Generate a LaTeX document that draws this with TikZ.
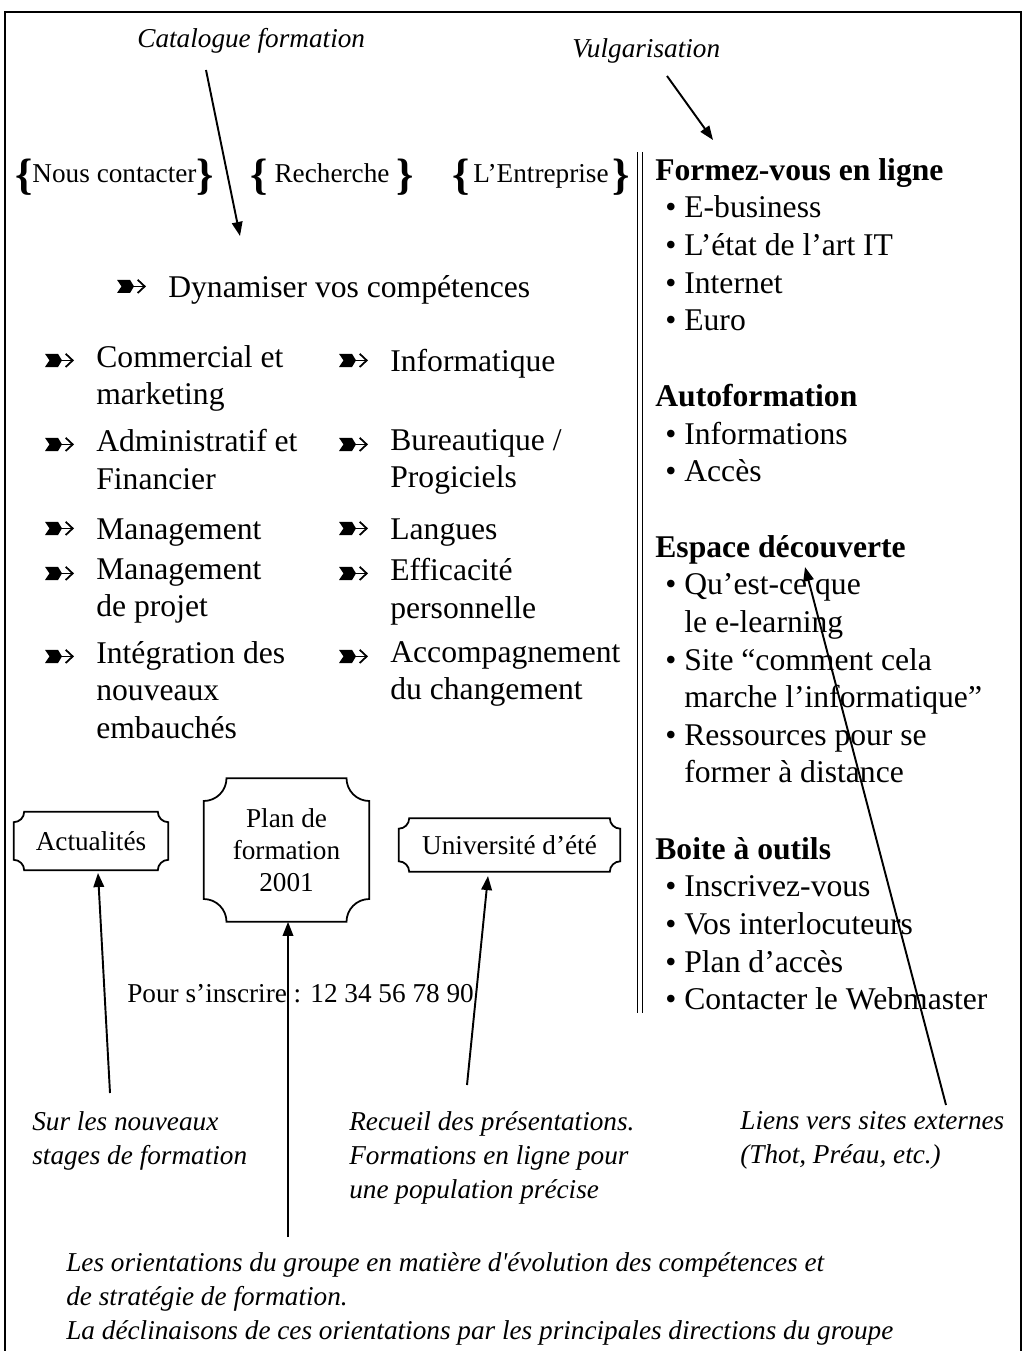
\documentclass[tikz,border=0pt]{standalone}
\usepackage{fontspec}
\setmainfont{Liberation Serif}
\usetikzlibrary{arrows.meta,positioning}

% bullet inside the right column
\newcommand\bul{\makebox[0.58cm][l]{\hspace{0.2cm}\textbullet}}
\newcommand\cont{\hspace*{0.58cm}}
% plaque outline round a node: #1 node, #2 corner radius
\newcommand\plaque[2]{%
  \draw[line width=1pt] ([xshift=#2]#1.north west) -- ([xshift=-#2]#1.north east)
    arc[start angle=180,end angle=270,radius=#2] -- ([yshift=#2]#1.south east)
    arc[start angle=90,end angle=180,radius=#2] -- ([xshift=#2]#1.south west)
    arc[start angle=0,end angle=90,radius=#2] -- ([yshift=-#2]#1.north west)
    arc[start angle=270,end angle=360,radius=#2] -- cycle;}

\tikzset{
  body/.style={font=\fontsize{18}{21.4}\selectfont,align=left,anchor=north west,inner sep=0pt,
    execute at begin node=\strut},
  small/.style={font=\fontsize{15.5}{18.1}\selectfont,inner sep=0pt},
  note/.style={font=\fontsize{15.5}{19.3}\selectfont\itshape,align=left,anchor=north west,inner sep=0pt,
    execute at begin node=\strut},
  brc/.style={font=\fontsize{25}{25}\selectfont\bfseries,inner sep=0pt,yshift=-0.04cm},
  tab/.style={small,text height=12pt,text depth=3pt,
    label={[brc,anchor=west]west:\{},label={[brc,anchor=east]east:\}}},
  box/.style={small,align=center},
  pointer/.style={line width=1.1pt,-{Triangle[length=8pt,width=6pt]}},
  fletch/.pic={
    \fill (-51,22) -- (-38,22) -- (-34,15.4) -- (-38,8.8) -- (-51,8.8) -- (-46.5,15.4) -- cycle;
    \draw[line width=1pt,-{Straight Barb[length=4pt,width=7.5pt]}] (-36,15.4) -- (-22,15.4);
  }
}

\begin{document}
\begin{tikzpicture}[x=0.02cm,y=-0.02cm]
  \useasboundingbox (0,0) rectangle (1026,1351);
  \draw[line width=1.2pt] (5,1370) -- (5,12) -- (1021,12) -- (1021,1370);
  \draw[double,line width=0.7pt,double distance=2pt] (640,152) -- (640,1013);

  % tabs
  \node[tab,minimum width=3.98cm] (contact) at (114.5,175) {Nous contacter};
  \node[tab,minimum width=3.28cm] (search) at (332,175) {Recherche};
  \node[tab,minimum width=3.56cm] (firm) at (541,175) {L’Entreprise};

  % catalogue
  \node[body] (dyn) at (168,271) {Dynamiser vos compétences};
  \node[body] (com) at (96,345) {Commercial et\\marketing};
  \node[body] (adm) at (96,429) {Administratif et\\Financier};
  \node[body] (mgt) at (96,513) {Management};
  \node[body] (prj) at (96,558) {Management\\de projet};
  \node[body] (integ) at (96,641) {Intégration des\\nouveaux\\embauchés};
  \node[body] (info) at (390,345) {Informatique};
  \node[body] (bur) at (390,429) {Bureautique /\\Progiciels};
  \node[body] (lang) at (390,513) {Langues};
  \node[body] (eff) at (390,558) {Efficacité\\personnelle};
  \node[body] (acc) at (390,641) {Accompagnement\\du changement};
  \foreach \n in {dyn,com,adm,mgt,prj,integ,info,bur,lang,eff,acc}
    \pic at (\n.north west) {fletch};

  % right column
  \node[body] (formez) at (655,158) {\textbf{Formez-vous en ligne}\\\bul E-business\\\bul L’état de l’art IT\\\bul Internet\\\bul Euro};
  \node[body] (autof) at (655,384) {\textbf{Autoformation}\\\bul Informations\\\bul Accès};
  \node[body] (decouv) at (655,535) {\textbf{Espace découverte}\\\bul Qu’est-ce que\\\cont le e-learning\\\bul Site “comment cela\\\cont marche l’informatique”\\\bul Ressources pour se\\\cont former à distance};
  \node[body] (outils) at (655,837) {\textbf{Boite à outils}\\\bul Inscrivez-vous\\\bul Vos interlocuteurs\\\bul Plan d’accès\\\bul Contacter le Webmaster};

  % plaques
  \node[box,minimum width=3.08cm,minimum height=1.16cm] (actu) at (91,841) {Actualités};
  \node[box,minimum width=3.3cm,minimum height=2.86cm] (plan) at (286.5,850) {Plan de\\formation\\2001};
  \node[box,minimum width=4.42cm,minimum height=1.06cm] (univ) at (509.5,845) {Université d’été};
  \plaque{actu}{6pt}
  \plaque{plan}{13pt}
  \plaque{univ}{6pt}
  \node[small,anchor=base west] (inscr) at (127,1002) {Pour s’inscrire : 12 34 56 78 90};

  % comments
  \node[note] (cat) at (137,23.2) {Catalogue formation};
  \node[note] (vulg) at (572,33.2) {Vulgarisation};
  \node[note] (sur) at (32,1111) {Sur les nouveaux\\stages de formation};
  \node[note] (recueil) at (349,1111) {Recueil des présentations.\\Formations en ligne pour\\une population précise};
  \node[note] (liens) at (740,1111) {Liens vers sites externes\\(Thot, Préau, etc.)};
  \node[note] (orient) at (66,1252) {Les orientations du groupe en matière d\textquotesingle évolution des compétences et\\de stratégie de formation.\\La déclinaisons de ces orientations par les principales directions du groupe};

  \coordinate (cat-s) at (206,70);
  \coordinate (cat-t) at (240,236);
  \coordinate (vulg-s) at (667,76);
  \coordinate (vulg-t) at (713,140);
  \coordinate (sur-s) at (110,1093);
  \coordinate (actu-t) at (98,873);
  \coordinate (plan-s) at (288,1237);
  \coordinate (recueil-s) at (467,1085);
  \coordinate (univ-t) at (488,876);
  \coordinate (liens-s) at (946,1105);
  \coordinate (liens-t) at (805,567);
  \draw[pointer] (cat-s) -- (cat-t);
  \draw[pointer] (vulg-s) -- (vulg-t);
  \draw[pointer] (sur-s) -- (actu-t);
  \draw[pointer] (plan-s) -- (plan.south -| plan-s);
  \draw[pointer] (recueil-s) -- (univ-t);
  \draw[pointer] (liens-s) -- (liens-t);
\end{tikzpicture}
\end{document}
